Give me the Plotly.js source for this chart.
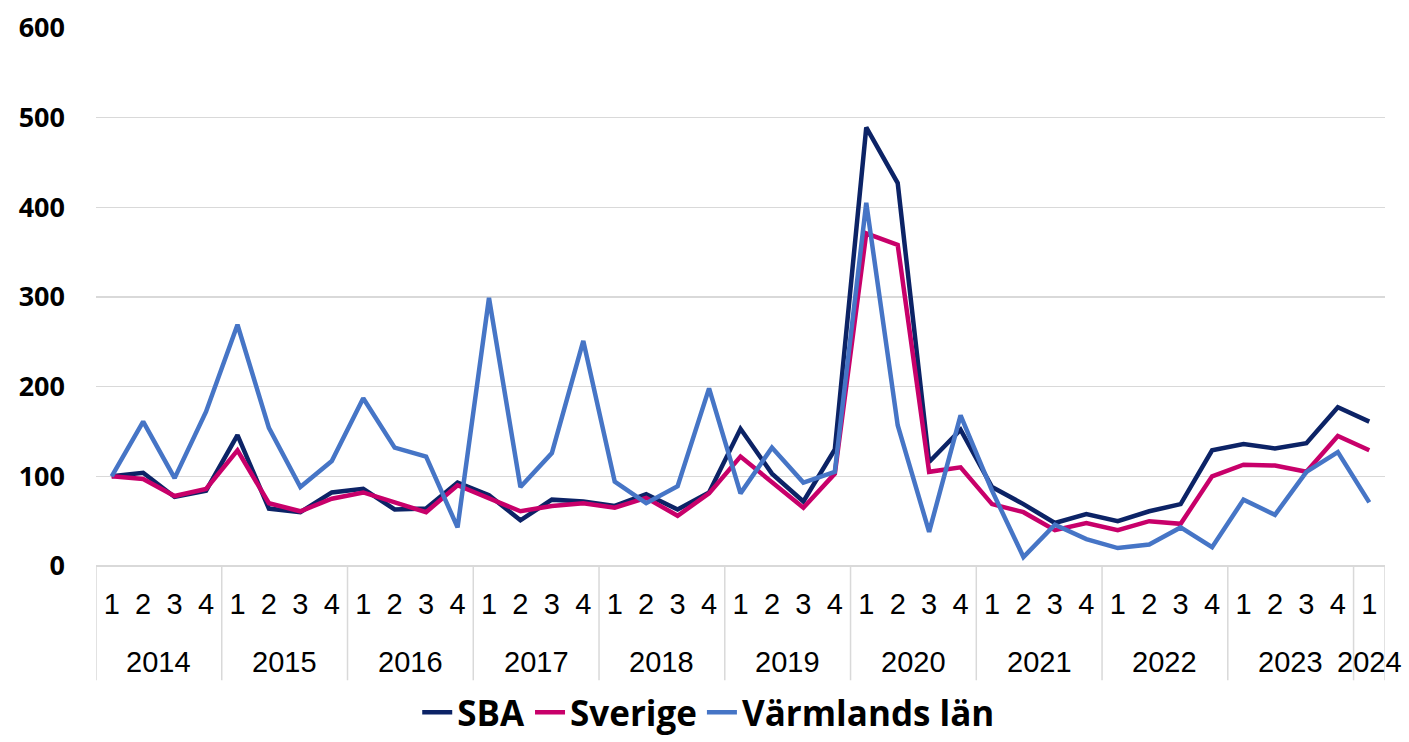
<!DOCTYPE html>
<html>
<head>
<meta charset="utf-8">
<script src="https://cdn.plot.ly/plotly-3.0.1.min.js"></script>
<style>html,body{margin:0;padding:0;background:#fff;}#chart{width:1409px;height:742px;}</style>
</head>
<body>
<div id="chart"></div>
<script>
const years = ["2014","2015","2016","2017","2018","2019","2020","2021","2022","2023","2024"];
const quarters = ["1","2","3","4"];
const sba = [100,104,77,84, 146,64,60,82, 86,63,64,93, 79,51,74,72, 67,80,63,82, 153,103,72,130, 489,427,116,152, 88,69,48,58, 50,61,69,129, 136,131,137,177, 161];
const sverige = [100,97,78,86, 129,70,61,75, 82,71,60,90, 76,61,67,70, 65,76,56,81, 122,94,65,103, 371,358,105,110, 69,60,40,48, 40,50,47,100, 113,112,105,145, 129];
const varmland = [100,161,98,172, 269,154,88,117, 187,132,122,43, 299,88,126,251, 94,70,89,198, 81,132,93,105, 405,157,38,168, 84,10,46,30, 20,24,43,21, 74,57,105,127, 71];

const n = sba.length;
const idx = [], qText = [];
for (let i = 0; i < n; i++) { idx.push(i); qText.push(quarters[i % 4]); }

const traces = [
  {name: "SBA", x: idx, y: sba, type: "scatter", mode: "lines", line: {color: "#0c2366", width: 4.5}},
  {name: "Sverige", x: idx, y: sverige, type: "scatter", mode: "lines", line: {color: "#c8006a", width: 4.5}},
  {name: "Värmlands län", x: idx, y: varmland, type: "scatter", mode: "lines", line: {color: "#4675c6", width: 4.5}}
];

// year labels and group dividers
const annotations = [], shapes = [];
const yearFont = {family: "Liberation Sans Narrow, Arial Narrow, sans-serif", size: 29, color: "#000"};
for (let k = 0; k < years.length; k++) {
  const start = k * 4;
  const end = Math.min(start + 4, n);
  annotations.push({x: (start + end - 1) / 2, xref: "x", y: -0.178, yref: "paper",
    text: years[k], showarrow: false, font: yearFont, xanchor: "center", yanchor: "middle"});
  shapes.push({type: "line", xref: "x", yref: "paper", x0: start - 0.5, x1: start - 0.5, y0: 0, y1: -0.212,
    line: {color: "#d9d9d9", width: 1.5}});
}
shapes.push({type: "line", xref: "x", yref: "paper", x0: n - 0.5, x1: n - 0.5, y0: 0, y1: -0.212,
  line: {color: "#d9d9d9", width: 1.5}});

const layout = {
  width: 1409, height: 742,
  margin: {l: 96, r: 24, t: 27, b: 176, autoexpand: false},
  paper_bgcolor: "#fff", plot_bgcolor: "#fff",
  showlegend: true,
  legend: {orientation: "h", xref: "container", x: 0.503, xanchor: "center",
           yref: "container", y: -0.012, yanchor: "bottom",
           font: {family: "Open Sans, sans-serif", size: 35, color: "#000", weight: "bold"},
           tracegroupgap: 0},
  annotations: annotations,
  shapes: shapes,
  xaxis: {
    range: [-0.5, n - 0.5],
    tickvals: idx, ticktext: qText,
    showgrid: false, zeroline: false,
    showline: false, automargin: false,
    ticks: "", ticklabelstandoff: 18,
    tickfont: {family: "Liberation Sans Narrow, Arial Narrow, sans-serif", size: 29, color: "#000"}
  },
  yaxis: {
    range: [0, 601], dtick: 100, tick0: 0,
    showgrid: true, gridcolor: "#d9d9d9", gridwidth: 1.5,
    zeroline: true, zerolinecolor: "#d9d9d9", zerolinewidth: 1.5,
    showline: false, automargin: false,
    ticks: "", ticklabelstandoff: 30,
    tickfont: {family: "Open Sans, sans-serif", size: 27, color: "#000", weight: "bold"}
  }
};

Plotly.newPlot("chart", traces, layout, {displayModeBar: false, staticPlot: true});
</script>
</body>
</html>
